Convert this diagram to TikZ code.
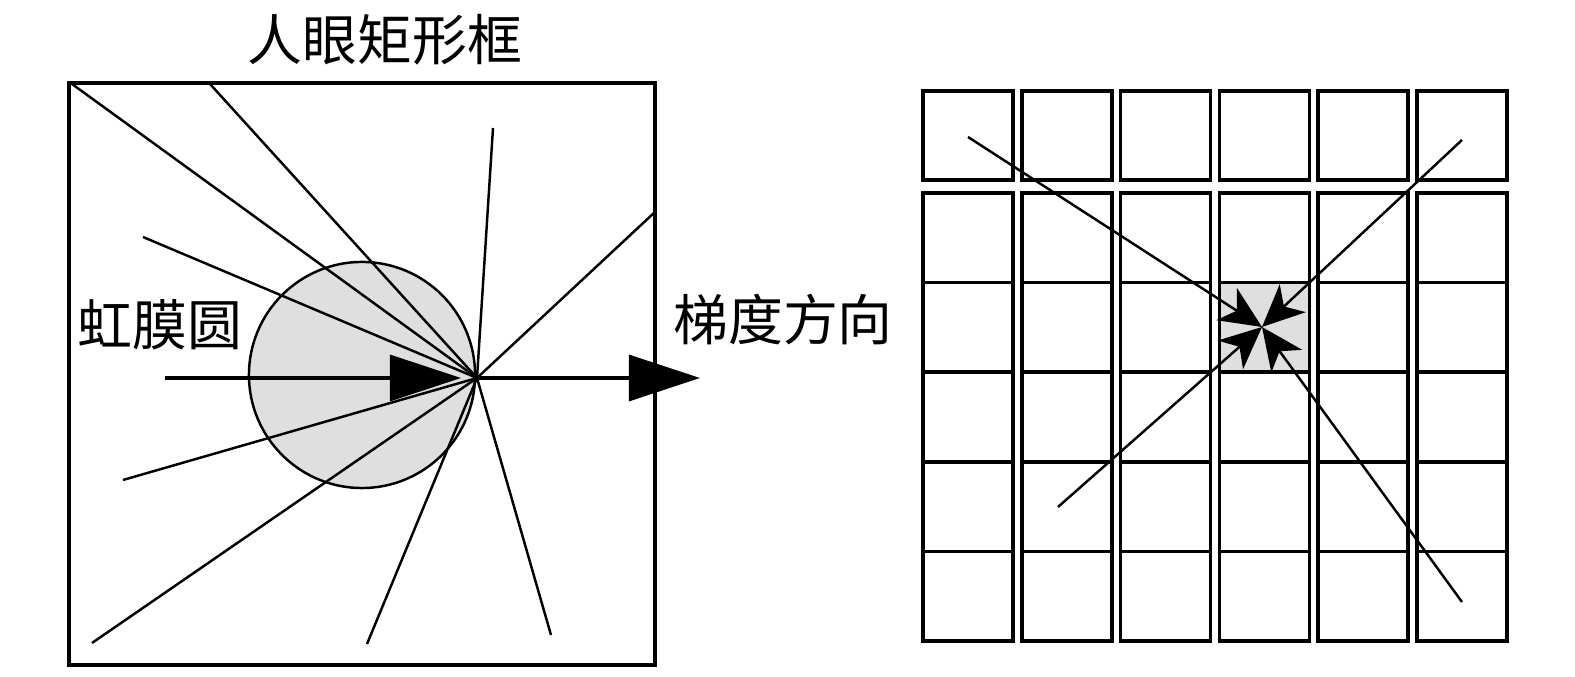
\documentclass[tikz,border=0pt]{standalone}
\usepackage{fontspec}
\newfontfamily\cjk{Noto Sans CJK SC}
\usetikzlibrary{arrows.meta}
\tikzset{
  ray/.style={line width=0.7pt},
  bigarrow/.style={line width=0.9pt,-{Triangle[length=0.71cm,width=0.46cm]}},
  cellbox/.style={line width=1pt},
  inarrow/.style={line width=0.7pt,-{Stealth[length=0.42cm,width=0.38cm,inset=0.12cm]}},
  cjklabel/.style={font=\cjk\fontsize{15.6}{18}\selectfont,inner sep=0pt}
}
\begin{document}
\begin{tikzpicture}[x=0.01cm,y=-0.01cm]
\useasboundingbox (0,0) rectangle (1575,677);
% left part: eye box and iris circle
\draw[line width=1pt] (69,83) rectangle (655,665);
\node[cjklabel] (title) at (385,40) {人眼矩形框};
\filldraw[fill=gray!25,line width=0.7pt] (362,375) circle (1.13cm);
\coordinate (F) at (477,378);
\foreach \x/\y [count=\i] in {72/84,210/84,493/128,143/237,655/212,123/480,92/643,367/644,551/635}
  \coordinate (r\i) at (\x,\y);
\foreach \i in {1,...,9}
  \draw[ray] (F) -- (r\i);
\coordinate (A0) at (165,378);
\coordinate (A1) at (461,378);
\coordinate (B1) at (700,378);
\draw[bigarrow] (A0) -- (A1);
\draw[bigarrow] (F) -- (B1);
\node[cjklabel] (iris) at (160,325) {虹膜圆};
\node[cjklabel] (grad) at (783,320) {梯度方向};
% right part: grid of cells
\foreach \c in {0,...,5} {
  \draw[cellbox] ({923+98.8*\c},91) rectangle +(90,89);
  \foreach \r in {0,...,4}
    \draw[cellbox] ({923+98.8*\c},{193+89.6*\r}) rectangle +(90,89.6);
}
\filldraw[fill=gray!25,cellbox] (1219.4,282.6) rectangle (1309.4,372.2);
\coordinate (G) at (1262,327);
\coordinate (g1) at (968,137);
\coordinate (g2) at (1462,140);
\coordinate (g3) at (1058,507);
\coordinate (g4) at (1462,602);
\foreach \i in {1,...,4}
  \draw[inarrow] (g\i) -- (G);
\end{tikzpicture}
\end{document}
